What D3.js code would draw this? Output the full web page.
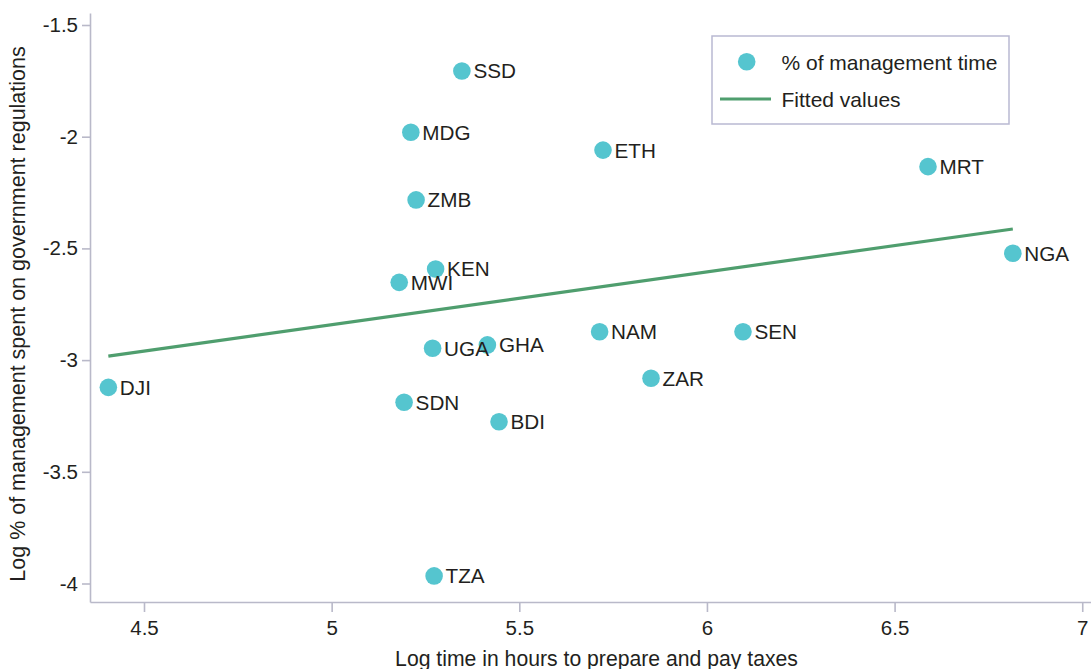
<!DOCTYPE html>
<html>
<head>
<meta charset="utf-8">
<script src="https://cdn.jsdelivr.net/npm/d3@7"></script>
<style>
  html, body { margin: 0; padding: 0; background: #fff; }
  svg { display: block; }
  text { font-family: "Liberation Sans", Arial, Helvetica, sans-serif; fill: #231f20; }
</style>
</head>
<body>
<svg id="chart" width="1091" height="669"></svg>
<script>
// ---- data ----
const countries = ["SSD","MDG","ETH","MRT","ZMB","NGA","KEN","MWI","NAM","SEN","GHA","UGA","DJI","ZAR","SDN","BDI","TZA"];
const logTaxHours = [5.347,5.211,5.723,6.589,5.225,6.815,5.277,5.180,5.714,6.096,5.415,5.269,4.405,5.851,5.193,5.446,5.273];
const logMgmtTime = [-1.706,-1.980,-2.060,-2.134,-2.283,-2.522,-2.592,-2.652,-2.873,-2.873,-2.932,-2.947,-3.122,-3.081,-3.189,-3.276,-3.966];
const fittedX = [4.405, 6.815];
const fittedY = [-2.982, -2.413];
const xTicks = [4.5, 5, 5.5, 6, 6.5, 7];
const yTicks = [-1.5, -2, -2.5, -3, -3.5, -4];
const legendLabels = ["% of management time", "Fitted values"];
const xTitle = "Log time in hours to prepare and pay taxes";
const yTitle = "Log % of management spent on government regulations";

const dotColor = "#55c5cf";
const lineColor = "#4f9e6e";
const axisColor = "#b9b9c9";

const svg = d3.select("#chart");

const x = d3.scaleLinear().domain([4.3561, 7.034]).range([90, 1095]);
const y = d3.scaleLinear().domain([-1.4463, -4.0828]).range([13, 602]);

const fmt = d => String(d);

// axes
const gx = svg.append("g").attr("transform", `translate(0,${y.range()[1]})`)
  .call(d3.axisBottom(x).tickValues(xTicks).tickFormat(fmt).tickSize(10).tickSizeOuter(0).tickPadding(8));
const gy = svg.append("g").attr("transform", `translate(${x.range()[0]},0)`)
  .call(d3.axisLeft(y).tickValues(yTicks).tickFormat(fmt).tickSize(8).tickSizeOuter(0).tickPadding(4));
[gx, gy].forEach(g => {
  g.select(".domain").attr("stroke", axisColor).attr("stroke-width", 1.6);
  g.selectAll(".tick line").attr("stroke", axisColor).attr("stroke-width", 1.6);
  g.selectAll(".tick text").attr("fill", "#231f20")
    .style("font-size", "20.5px").style("font-family", '"Liberation Sans", Arial, sans-serif');
});

// fitted line
const pts = fittedX.map((v, i) => [v, fittedY[i]]);
svg.append("path")
  .attr("d", d3.line().x(d => x(d[0])).y(d => y(d[1]))(pts))
  .attr("fill", "none").attr("stroke", lineColor).attr("stroke-width", 3.2);

// points
const data = countries.map((c, i) => ({ c, x: logTaxHours[i], y: logMgmtTime[i] }));
svg.append("g").selectAll("circle").data(data).join("circle")
  .attr("cx", d => x(d.x)).attr("cy", d => y(d.y)).attr("r", 8.8)
  .attr("fill", dotColor);
svg.append("g").selectAll("text").data(data).join("text")
  .attr("x", d => x(d.x) + 11.5).attr("y", d => y(d.y)).attr("dy", "0.36em")
  .style("font-size", "20.7px").text(d => d.c);

// axis titles
svg.append("text").attr("x", 596.5).attr("y", 666).attr("text-anchor", "middle")
  .style("font-size", "21.2px").text(xTitle);
svg.append("text").attr("transform", "translate(25,314) rotate(-90)").attr("text-anchor", "middle")
  .style("font-size", "21.5px").text(yTitle);

// legend
const lg = svg.append("g");
lg.append("rect").attr("x", 712).attr("y", 36).attr("width", 297).attr("height", 88)
  .attr("fill", "#fff").attr("stroke", "#b9b9d2").attr("stroke-width", 1.5);
lg.append("circle").attr("cx", 746.7).attr("cy", 61.7).attr("r", 8.8).attr("fill", dotColor);
lg.append("line").attr("x1", 720).attr("x2", 771).attr("y1", 99).attr("y2", 99)
  .attr("stroke", lineColor).attr("stroke-width", 3.2);
lg.selectAll("text.leg").data(legendLabels).join("text").attr("class", "leg")
  .attr("x", 781.5).attr("y", (d, i) => 62 + i * 37.5).attr("dy", "0.36em")
  .style("font-size", "21px").text(d => d);
</script>
</body>
</html>
